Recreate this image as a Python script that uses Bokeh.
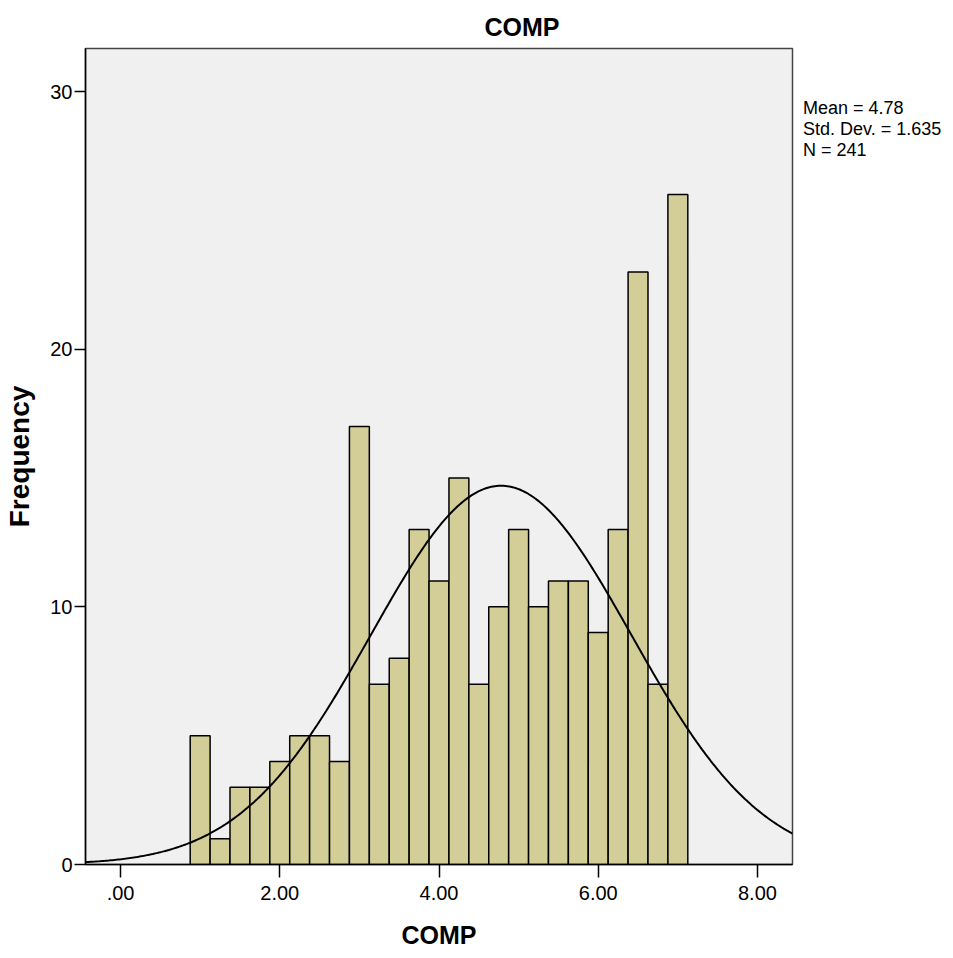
import numpy as np
from bokeh.plotting import figure
from bokeh.models import Range1d, FixedTicker, Legend, LegendItem, ColumnDataSource
from bokeh.embed import file_html
from bokeh.resources import INLINE

# ---- data ----
counts = [5, 1, 3, 3, 4, 5, 5, 4, 17, 7, 8, 13, 11, 15, 7, 10, 13, 10, 11, 11, 9, 13, 23, 7, 26]
bin_start = 0.875
bin_width = 0.25
mean_val = 4.78
sd_val = 1.635
n_val = 241
x_ticks = [0, 2, 4, 6, 8]
x_tick_labels = [".00", "2.00", "4.00", "6.00", "8.00"]
y_ticks = [0, 10, 20, 30]
stats = ["Mean = 4.78", "Std. Dev. = 1.635", "N = 241"]

edges = bin_start + bin_width * np.arange(len(counts) + 1)
src = ColumnDataSource(dict(left=edges[:-1], right=edges[1:], top=counts, bottom=[0] * len(counts)))

x_lo, x_hi = -0.44, 8.44
xs = np.linspace(x_lo, x_hi, 400)
ys = n_val * bin_width * np.exp(-0.5 * ((xs - mean_val) / sd_val) ** 2) / (sd_val * np.sqrt(2 * np.pi))

FONT = "Liberation Sans"

p = figure(frame_width=707, frame_height=816, output_backend="svg", toolbar_location=None,
           x_range=Range1d(x_lo, x_hi), y_range=Range1d(0, 31.67),
           min_border_left=85, min_border_right=161, min_border_top=48, min_border_bottom=94,
           background_fill_color="#F0F0F0", border_fill_color="white")

p.quad(left="left", right="right", top="top", bottom="bottom", source=src,
       fill_color="#D3CE97", line_color="black", line_width=1.5)
p.line(xs, ys, line_color="black", line_width=2)

p.xgrid.visible = False
p.ygrid.visible = False
p.outline_line_color = "#444444"
p.outline_line_width = 1.5

p.title.text = "COMP"
p.title.text_font = FONT
p.title.text_font_size = "25px"
p.title.text_font_style = "bold"
p.title.text_color = "black"
p.title.align = "left"
p.title.offset = 399
p.title.standoff = 16

p.xaxis.ticker = FixedTicker(ticks=x_ticks)
p.xaxis.major_label_overrides = {t: l for t, l in zip(x_ticks, x_tick_labels)}
p.xaxis.axis_label = "COMP"
p.yaxis.ticker = FixedTicker(ticks=y_ticks)
p.yaxis.axis_label = "Frequency"

for ax in (p.xaxis[0], p.yaxis[0]):
    ax.axis_line_color = "black"
    ax.axis_line_width = 1.5
    ax.major_tick_line_color = "black"
    ax.major_tick_line_width = 1.5
    ax.major_tick_in = 0
    ax.minor_tick_line_color = None
    ax.major_label_text_font = FONT
    ax.major_label_text_font_size = "20px"
    ax.major_label_text_color = "black"
    ax.axis_label_text_font = FONT
    ax.axis_label_text_font_style = "bold"
    ax.axis_label_text_color = "black"

p.xaxis.major_tick_out = 13
p.xaxis.major_label_standoff = 8
p.xaxis.axis_label_text_font_size = "25px"
p.xaxis.axis_label_standoff = 18
p.yaxis.major_tick_out = 11
p.yaxis.major_label_standoff = 2
p.yaxis.axis_label_text_font_size = "28px"
p.yaxis.axis_label_standoff = 12

# invisible renderers that only carry the statistics text into a side legend
dummies = [p.line([mean_val, mean_val], [0, 0], line_alpha=0) for _ in stats]
legend = Legend(items=[LegendItem(label=s, renderers=[d]) for s, d in zip(stats, dummies)],
                location=(11, 703), orientation="vertical",
                glyph_width=0, glyph_height=18, label_standoff=0, label_height=18,
                spacing=0, padding=0, margin=0,
                border_line_color=None, background_fill_alpha=0,
                label_text_font=FONT, label_text_font_size="18px", label_text_color="black")
p.add_layout(legend, "right")

open("out.html", "w").write(file_html(p, INLINE))
